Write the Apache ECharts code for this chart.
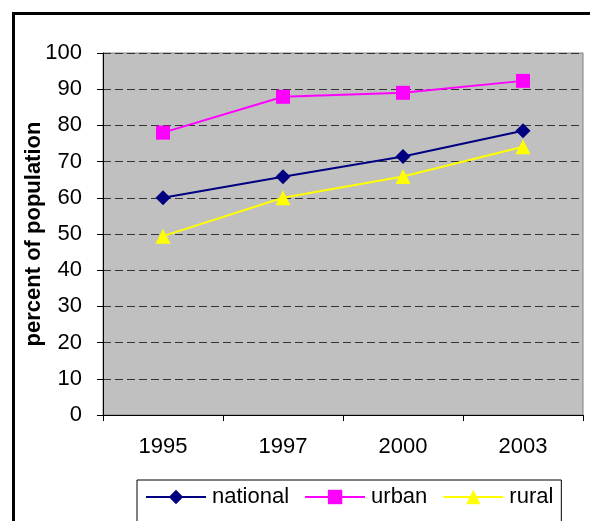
<!DOCTYPE html>
<html>
<head>
<meta charset="utf-8">
<script src="https://cdn.jsdelivr.net/npm/echarts@6/dist/echarts.min.js"></script>
<style>
html,body{margin:0;padding:0;background:#fff;}
#chart{width:590px;height:521px;}
</style>
</head>
<body>
<div id="chart"></div>
<script>
var years = ['1995', '1997', '2000', '2003'];
var nationalValues = [60, 65.8, 71.4, 78.5];
var urbanValues = [78, 87.9, 89, 92.3];
var ruralValues = [49.4, 60, 65.9, 74.1];
var yTicks = [0, 10, 20, 30, 40, 50, 60, 70, 80, 90, 100];

var font = '"Liberation Sans", Arial, sans-serif';
var chart = echarts.init(document.getElementById('chart'), null, {renderer: 'canvas'});
chart.setOption({
  animation: false,
  backgroundColor: '#ffffff',
  graphic: [{
    type: 'rect', silent: true, z: 100,
    shape: {x: 13.5, y: 13.5, width: 640, height: 560},
    style: {fill: 'none', stroke: '#000000', lineWidth: 3}
  }],
  grid: {
    left: 103, top: 53, width: 480, height: 362,
    show: true, backgroundColor: '#C0C0C0', borderColor: '#808080', borderWidth: 1
  },
  legend: {
    left: 137, top: 480,
    orient: 'horizontal',
    padding: [6, 8, 40, 8],
    borderColor: '#000000', borderWidth: 1,
    backgroundColor: '#ffffff',
    itemWidth: 60, itemHeight: 18, itemGap: 15,
    lineStyle: {width: 2},
    textStyle: {fontFamily: font, fontSize: 22, color: '#000', padding: [0, 0, 0, 1]},
    data: ['national', 'urban', 'rural']
  },
  xAxis: {
    type: 'category',
    data: years,
    boundaryGap: true,
    axisLine: {lineStyle: {color: '#000', width: 1}},
    axisTick: {show: true, length: 6, lineStyle: {color: '#000'}},
    axisLabel: {margin: 21, fontFamily: font, fontSize: 22, color: '#000'},
    splitLine: {show: false}
  },
  yAxis: {
    type: 'value',
    min: yTicks[0], max: yTicks[yTicks.length - 1], interval: 10,
    name: 'percent of population',
    nameLocation: 'middle',
    nameGap: 58,
    nameMoveOverlap: false,
    nameTextStyle: {fontFamily: font, fontSize: 22, fontWeight: 'bold', color: '#000'},
    axisLine: {show: true, lineStyle: {color: '#000', width: 1}},
    axisTick: {show: true, length: 6, lineStyle: {color: '#000'}},
    axisLabel: {margin: 21, fontFamily: font, fontSize: 22, color: '#000'},
    splitLine: {show: true, lineStyle: {color: '#333333', width: 1, type: [8, 4]}}
  },
  series: [
    {
      name: 'national', type: 'line', data: nationalValues,
      symbol: 'diamond', symbolSize: 15,
      lineStyle: {color: '#000080', width: 2},
      itemStyle: {color: '#000080'}
    },
    {
      name: 'urban', type: 'line', data: urbanValues,
      symbol: 'rect', symbolSize: 14,
      lineStyle: {color: '#FF00FF', width: 2},
      itemStyle: {color: '#FF00FF'}
    },
    {
      name: 'rural', type: 'line', data: ruralValues,
      symbol: 'triangle', symbolSize: 15,
      lineStyle: {color: '#FFFF00', width: 2},
      itemStyle: {color: '#FFFF00'}
    }
  ]
});
</script>
</body>
</html>
